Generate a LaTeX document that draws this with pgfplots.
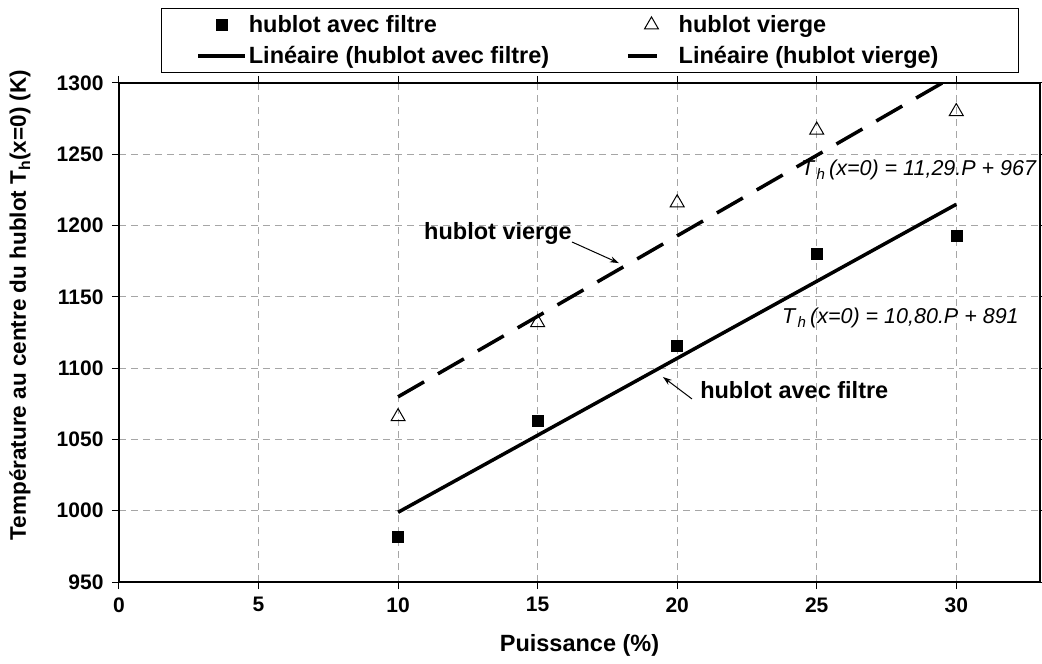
\documentclass[border=0pt]{standalone}
\usepackage{fontspec}
\setmainfont{Liberation Sans}
\usepackage{pgfplots}
\pgfplotsset{compat=1.18}
\usetikzlibrary{arrows.meta}

\newcommand{\fl}{\fontsize{23.5}{27}\selectfont}
\newcommand{\ft}{\fontsize{21}{25}\selectfont}
\newcommand{\fe}{\fontsize{21.5}{25}\selectfont}
\newcommand{\fy}{\fontsize{22.5}{26}\selectfont}

\pgfplotsset{
  markleg/.style={legend image code/.code={\path (-35pt,0pt) (47pt,0pt);
    \draw[mark repeat=2,mark phase=2,##1] plot coordinates {(0pt,0pt)(23.5pt,0pt)(47pt,0pt)};}},
  lineleg/.style={legend image code/.code={\path (-35pt,0pt); \draw[##1] (0pt,0pt) -- (47pt,0pt);}},
  dashleg/.style={legend image code/.code={\path (-35pt,0pt) (47pt,0pt); \draw[##1,solid] (0pt,0pt) -- (29pt,0pt);}},
}

\begin{document}
\begin{tikzpicture}
\useasboundingbox (-119pt,-82pt) rectangle (923pt,582pt);
\begin{axis}[
  at={(0pt,0pt)}, anchor=south west,
  scale only axis, width=921pt, height=499pt,
  xmin=0, xmax=33, ymin=950, ymax=1300,
  xtick={0,5,...,30}, ytick={950,1000,...,1300},
  grid=major,
  major grid style={dash pattern=on 7pt off 5pt, gray!70, line width=0.8pt},
  axis line style={line width=2pt},
  tick style={black, line width=1pt},
  tick align=outside, major tick length=7pt,
  tick label style={font=\ft\bfseries},
  xticklabel style={yshift=-5pt},
  yticklabel style={xshift=-5pt},
  /pgf/number format/assume math mode=true,
  /pgf/number format/set thousands separator={},
  xlabel={Puissance (\%)},
  ylabel={Température au centre du hublot T\textsubscript{h}(x=0) (K)},
  xlabel style={font=\fl\bfseries, at={(axis description cs:0.5,-0.128)}, anchor=center},
  ylabel style={font=\fy\bfseries, at={(axis description cs:-0.1075,0.555)}, anchor=center},
  legend columns=2,
  legend cell align=left,
  legend style={at={(axis description cs:0.0456,1.1503)}, anchor=north west,
    draw=black, line width=0.8pt, font=\fl\bfseries,
    inner xsep=0pt, inner ysep=5pt, row sep=8pt,
    nodes={inner xsep=2pt, inner ysep=0pt, text height=19pt, text depth=4pt},
    /tikz/every even column/.append style={column sep=40pt}},
]
% points mesures
\addplot[only marks, mark=square*, mark size=5.5pt, black, line width=0.5pt, markleg]
  coordinates {(10,981.6)(15,1063)(20,1116)(25,1180)(30,1193)};
\addlegendentry{hublot avec filtre}
\addplot[only marks, mark=triangle, mark size=8pt, black, line width=1pt,
  mark options={fill=white}, markleg]
  coordinates {(10,1066)(15,1132)(20,1216)(25,1267)(30,1280)};
\addlegendentry{hublot vierge}
% droites de tendance
\addplot[black, line width=3.5pt, no marks, lineleg]
  coordinates {(10,998.9)(30,1214.9)};
\addlegendentry{Linéaire (hublot avec filtre)}
\addplot[black, line width=3.5pt, no marks, dash pattern=on 30pt off 16pt, dashleg]
  coordinates {(10,1079.9)(30,1305.7)};
\addlegendentry{Linéaire (hublot vierge)\hspace*{78pt}}

\node[anchor=west, inner sep=0pt, font=\fe\itshape] at (axis cs:24.43,1239)
  {T\textsubscript{\,h}\,(x=0) = 11,29.P + 967};
\node[anchor=west, inner sep=0pt, font=\fe\itshape] at (axis cs:23.75,1135)
  {T\textsubscript{\,h}\,(x=0) = 10,80.P + 891};
\node[anchor=center, inner sep=0pt, font=\fl\bfseries] at (axis cs:13.58,1194.8) {hublot vierge};
\node[anchor=west, inner sep=0pt, font=\fl\bfseries] at (axis cs:20.82,1084.7) {hublot avec filtre};
\draw[-{Stealth[length=9pt,width=6pt]}, line width=1pt] (axis cs:16.23,1188.5) -- (axis cs:17.91,1173.7);
\draw[-{Stealth[length=9pt,width=6pt]}, line width=1pt] (axis cs:20.53,1078.4) -- (axis cs:19.49,1093.8);
\end{axis}
\end{tikzpicture}
\end{document}
